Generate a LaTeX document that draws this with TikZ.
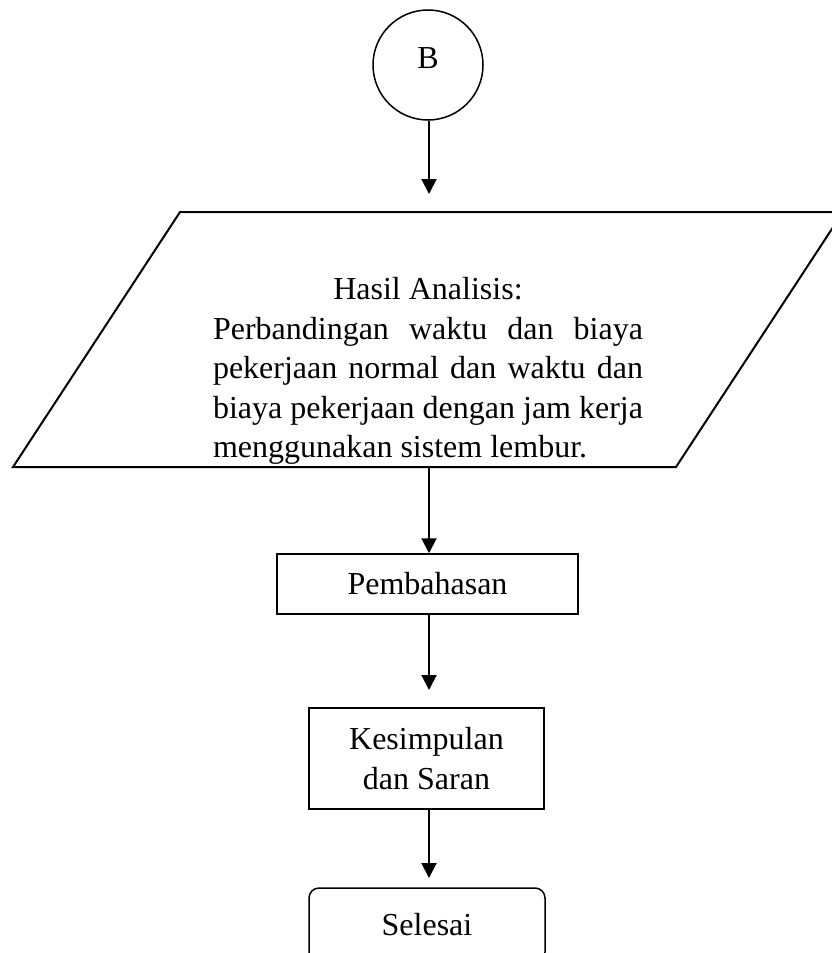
\documentclass[tikz,border=0pt]{standalone}
\usepackage{fontspec}
\setmainfont{Liberation Serif}
\usetikzlibrary{arrows.meta}
\tikzset{
  shapeline/.style={draw=black, line width=1.5pt},
  conn/.style={draw=black, line width=2pt, -{Triangle[width=15pt,length=15pt]}},
  txt/.style={font=\fontsize{32}{39.5}\selectfont},
  boxnode/.style={shapeline, rectangle, inner sep=0pt, txt, align=center},
}
\begin{document}
\begin{tikzpicture}[x=1pt,y=-1pt]
\useasboundingbox (0,0) rectangle (831,953);
% connector B
\node[shapeline, circle, minimum size=110pt, inner sep=0pt, txt, text depth=14pt] (B) at (428,65) {B};
\coordinate (in1) at (429,194);
\draw[conn] (B.south -| in1) -- (in1);
% parallelogram
\coordinate (ptl) at (180,212);
\coordinate (ptr) at (843,212);
\coordinate (pbr) at (676,467);
\coordinate (pbl) at (13,467);
\draw[draw=black, line width=2pt, line join=miter] (ptl) -- (ptr) -- (pbr) -- (pbl) -- cycle;
\node[txt, text width=430pt, align=justify, inner sep=0pt] (hasil) at (428,371)
  {{\centering Hasil Analisis:\par}Perbandingan waktu dan biaya\linebreak pekerjaan normal dan waktu dan\linebreak biaya pekerjaan dengan jam kerja\linebreak menggunakan sistem lembur.};
\coordinate (out1) at (429,467);
% boxes
\node[boxnode, minimum width=301pt, minimum height=60pt] (pem) at (427.5,584) {Pembahasan};
\draw[conn] (out1) -- (pem.north -| out1);
\coordinate (in3) at (429,690);
\draw[conn] (pem.south -| in3) -- (in3);
\node[boxnode, minimum width=235pt, minimum height=101pt] (kes) at (426.5,758.5) {Kesimpulan\\dan Saran};
\coordinate (in4) at (429,878);
\draw[conn] (kes.south -| in4) -- (in4);
\node[boxnode, rounded corners=10pt, minimum width=236pt, minimum height=74pt] (sel) at (427,925) {Selesai};
\end{tikzpicture}
\end{document}
